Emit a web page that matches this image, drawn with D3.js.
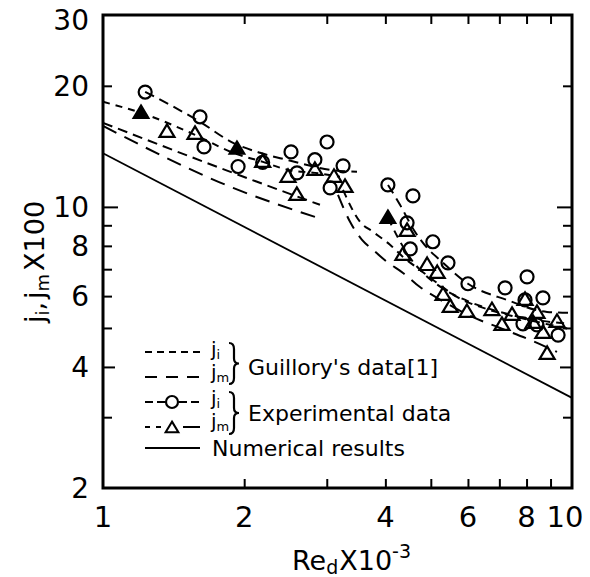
<!DOCTYPE html>
<html><head><meta charset="utf-8">
<script src="https://cdn.jsdelivr.net/npm/d3@7"></script>
<style>
body{margin:0;background:#fff}
svg{display:block}
text{font-family:"DejaVu Sans",sans-serif;fill:#000}
</style>
</head><body>
<svg id="c" width="590" height="577"></svg>
<script>
// ---------- data ----------
const xMinorTicks=[2,3,4,5,6,7,8,9];
const yMinorTicks=[3,4,5,6,7,8,9,10,20];
const xTickLabels=[1,2,4,6,8,10];
const yTickLabels=[2,4,6,8,10,20,30];

// Numerical results (solid)
const numerical=[[1,13.6],[10,3.35]];
// Experimental j_i fitted curve (dashed, circles)
const expJiLow=[[1.23,19.33],[1.61,16.27],[1.894,14.43],[2.161,13.63],[2.468,13.09],[3.048,12.36],[3.48,12.22]];
const expJiHigh=[[4.052,11.34],[4.298,10.12],[4.626,8.67],[4.908,7.91],[5.231,7.38],[6.001,6.44],[7.267,5.87],[8.845,5.48],[9.9,5.45]];
// Experimental j_m fitted curve (dash, triangles)
const expJmLow=[[1,18.25],[1.205,17.13],[1.571,15.11],[1.894,13.63],[2.193,12.94],[2.48,12.36],[2.831,12.15],[3.201,11.88]];
const expJmHigh=[[4.052,9.39],[4.256,8.38],[4.515,7.47],[4.86,6.78],[5.361,6.22],[6.06,5.8],[7.023,5.48],[8.34,5.24],[9.9,5.12]];
// Guillory's data
const gJiLow=[[1,16.18],[1.894,12.15],[2.901,10.12]];
const gJiHigh=[[3.249,11.02],[3.532,9.18],[3.764,8.67],[4.092,8.05],[4.362,7.51],[4.741,6.97],[5.155,6.47],[5.686,5.97],[6.687,5.54],[7.746,5.3],[8.977,5.09],[9.9,4.97]];
const gJmLow=[[1,15.9],[1.894,11.15],[2.873,9.39]];
const gJmHigh=[[3.17,10.71],[3.363,9.18],[3.567,8.28],[3.764,7.82],[4.032,7.3],[4.362,6.85],[4.741,6.32],[5.155,5.94],[5.576,5.64],[6.06,5.36],[7.023,5.0],[8.136,4.67],[9.29,4.36]];

// Experimental points
const circlesJi=[[1.23,19.3],[1.61,16.75],[1.642,14.1],[1.941,12.6],[2.19,12.9],[2.517,13.7],[2.592,12.15],[3.004,14.5],[2.83,13.1],[3.25,12.65],[3.05,11.15],
 [4.05,11.34],[4.58,10.65],[4.45,9.13],[4.52,7.86],[5.05,8.19],[5.44,7.26],[6.0,6.44],[7.2,6.29],[8.02,6.7],[7.94,5.87],[8.67,5.94],[7.86,5.12],[8.42,5.09],[9.34,4.8]];
const trianglesJm=[[1.369,15.37],[1.571,15.19],[2.19,12.94],[2.48,11.88],[2.83,12.36],[2.59,10.71],[3.108,11.88],[3.281,11.21],
 [4.45,8.72],[4.36,7.6],[4.91,7.17],[5.16,6.85],[5.31,6.04],[5.5,5.64],[5.97,5.48],[6.75,5.54],[7.09,5.09],[7.45,5.39],[7.94,5.87],[8.42,5.45],[8.258,5.15],[8.67,4.86],[9.29,5.18],[8.85,4.31]];
const trianglesJmFilled=[[1.205,17.13],[1.93,13.94],[4.05,9.39]];

// ---------- drawing ----------
const svg=d3.select('#c');
const L=103,R=572,T=15,B=488;
const x=d3.scaleLog().domain([1,10]).range([L,R]);
const y=d3.scaleLog().domain([2,30]).range([B,T]);

const curve=d3.line().x(d=>x(d[0])).y(d=>y(d[1])).curve(d3.curveMonotoneX);

function drawLine(data,dash,w){
  svg.append('path').datum(data).attr('d',curve).attr('fill','none')
    .attr('stroke','#000').attr('stroke-width',w||2).attr('stroke-dasharray',dash||null);
}
drawLine(numerical,null,1.8);
drawLine(expJiLow,'10,6',2);
drawLine(expJiHigh,'10,6',2);
drawLine(expJmLow,'7,6',2);
drawLine(expJmHigh,'8,6',2);
drawLine(gJiLow,'10,6',2);
drawLine(gJiHigh,'8,6',2);
drawLine(gJmLow,'15,9',2);
drawLine(gJmHigh,'14,9',2);

const triPath='M0,-7.5L7.5,5L-7.5,5Z';
svg.append('g').selectAll('circle').data(circlesJi).join('circle')
  .attr('cx',d=>x(d[0])).attr('cy',d=>y(d[1])).attr('r',6.5)
  .attr('fill','none').attr('stroke','#000').attr('stroke-width',2.2);
svg.append('g').selectAll('path').data(trianglesJm).join('path')
  .attr('d',triPath).attr('transform',d=>`translate(${x(d[0])},${y(d[1])})`)
  .attr('fill','none').attr('stroke','#000').attr('stroke-width',2.2);
svg.append('g').selectAll('path').data(trianglesJmFilled).join('path')
  .attr('d',triPath).attr('transform',d=>`translate(${x(d[0])},${y(d[1])})`)
  .attr('fill','#000').attr('stroke','#000').attr('stroke-width',2);

// axes ticks (inward)
const tickLen=v=>v===10?15:(v===4?12:9);
function styleAxis(g){g.select('.domain').remove();g.selectAll('line').attr('stroke','#000').attr('stroke-width',2);}
svg.append('g').attr('transform',`translate(0,${B})`)
  .call(d3.axisBottom(x).tickValues(xMinorTicks).tickSize(-9).tickFormat('')).call(styleAxis);
svg.append('g').attr('transform',`translate(0,${T})`)
  .call(d3.axisTop(x).tickValues(xMinorTicks).tickSize(-9).tickFormat('')).call(styleAxis);
const ya=svg.append('g').attr('transform',`translate(${L},0)`)
  .call(d3.axisLeft(y).tickValues(yMinorTicks).tickSize(-9).tickFormat('')).call(styleAxis);
ya.selectAll('.tick line').attr('x2',d=>tickLen(d));
const yb=svg.append('g').attr('transform',`translate(${R},0)`)
  .call(d3.axisRight(y).tickValues(yMinorTicks).tickSize(-9).tickFormat('')).call(styleAxis);
yb.selectAll('.tick line').attr('x2',d=>-tickLen(d));

// frame
svg.append('rect').attr('x',L).attr('y',T).attr('width',R-L).attr('height',B-T)
  .attr('fill','none').attr('stroke','#000').attr('stroke-width',3);

// tick labels
svg.append('g').selectAll('text').data(yTickLabels).join('text')
  .attr('x',89).attr('y',d=>y(d)+(d===30?5:0)).attr('dy','0.36em').attr('text-anchor','end')
  .style('font-size','28px').text(d=>d);
svg.append('g').selectAll('text').data(xTickLabels).join('text')
  .attr('x',d=>x(d)+(d===10?-7:0)).attr('y',527).attr('text-anchor','middle')
  .style('font-size','29px').text(d=>d);

// axis titles
const xt=svg.append('text').attr('x',292).attr('y',570).style('font-size','27px');
xt.append('tspan').text('Re');
xt.append('tspan').attr('dy',4).style('font-size','19px').text('d');
xt.append('tspan').attr('dy',-4).attr('dx',1).text('X10');
xt.append('tspan').attr('dy',-12).style('font-size','19px').text('-3');

const yt=svg.append('text').attr('transform','translate(44,262) rotate(-90)')
  .attr('text-anchor','middle').style('font-size','27px');
yt.append('tspan').text('j');
yt.append('tspan').attr('dy',5).style('font-size','18px').text('i');
yt.append('tspan').attr('dy',-5).text(',');
yt.append('tspan').attr('dx',3).text('j');
yt.append('tspan').attr('dy',5).style('font-size','18px').text('m');
yt.append('tspan').attr('dy',-5).attr('dx',3).text('X100');

// legend
const lg=svg.append('g');
function lline(y0,dash,x0,x1){lg.append('line').attr('x1',x0||145).attr('x2',x1||200).attr('y1',y0).attr('y2',y0)
  .attr('stroke','#000').attr('stroke-width',2).attr('stroke-dasharray',dash);}
lline(352,'7,5');
lline(377,'12,9');
lline(402,'8,4',145,166); lline(402,'8,4',179,200);
lg.append('circle').attr('cx',172).attr('cy',402).attr('r',6).attr('fill','none').attr('stroke','#000').attr('stroke-width',2.2);
lline(427,'5,6',145,162); lline(427,null,183,200);
lg.append('path').attr('d',triPath).attr('transform','translate(172,428) scale(0.85)').attr('fill','none').attr('stroke','#000').attr('stroke-width',2.4);
lline(448,null);

function jlabel(yb,sub){
  const t=lg.append('text').attr('x',211).attr('y',yb).style('font-size','20px');
  t.append('tspan').text('j');
  t.append('tspan').attr('dy',3).style('font-size','13px').text(sub);
}
jlabel(356,'i'); jlabel(379,'m'); jlabel(405,'i'); jlabel(428,'m');

function brace(x0,y0,y1){
  const ym=(y0+y1)/2;
  lg.append('path').attr('d',`M${x0},${y0} Q${x0+5},${y0} ${x0+5},${y0+6} L${x0+5},${ym-5} Q${x0+5},${ym} ${x0+10},${ym} Q${x0+5},${ym} ${x0+5},${ym+5} L${x0+5},${y1-6} Q${x0+5},${y1} ${x0},${y1}`)
    .attr('fill','none').attr('stroke','#000').attr('stroke-width',2.2);
}
brace(229,343,384);
brace(229,392,434);
lg.append('text').attr('x',248).attr('y',375).style('font-size','22px').text("Guillory's data[1]");
lg.append('text').attr('x',248).attr('y',421).style('font-size','22px').text('Experimental data');
lg.append('text').attr('x',212).attr('y',456).style('font-size','22px').text('Numerical results');
</script>
</body></html>
